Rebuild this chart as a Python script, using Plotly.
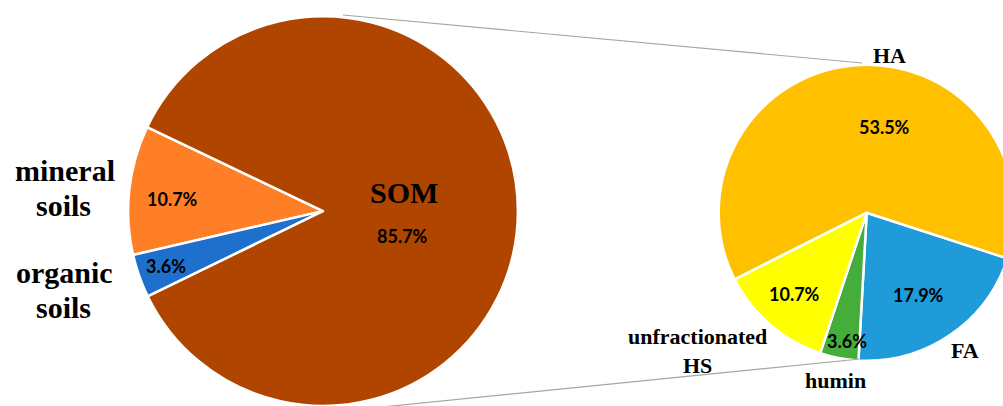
import plotly.graph_objects as go

# ---- data ----
main_labels = ["mineral soils", "organic soils", "SOM"]
main_values = [10.7, 3.6, 85.7]
main_colors = ["#FF7F27", "#1E70CC", "#B04500"]

som_labels = ["FA", "humin", "unfractionated HS", "HA"]
som_values = [17.9, 3.6, 10.7, 53.5]
som_colors = ["#1E9BD8", "#45AD3A", "#FFFF00", "#FFC000"]

W, H = 1020, 406


def px(x):
    return x / W


def py(y):
    return 1 - y / H


fig = go.Figure()

# left (main) pie: centre (323, 211), radius ~195
fig.add_trace(go.Pie(
    labels=main_labels, values=main_values, sort=False,
    direction="counterclockwise", rotation=-103,
    marker=dict(colors=main_colors, line=dict(color="white", width=2.5)),
    textinfo="none", hoverinfo="label+value", showlegend=False,
    domain=dict(x=[px(323 - 195), px(323 + 195)], y=[0, 0.96]),
))

# right (breakdown of SOM) pie: centre (866.7, 212.7), radius 148
fig.add_trace(go.Pie(
    labels=som_labels, values=som_values, sort=False,
    direction="clockwise", rotation=108,
    marker=dict(colors=som_colors, line=dict(color="white", width=2.5)),
    textinfo="none", hoverinfo="label+value", showlegend=False,
    domain=dict(x=[px(866.7 - 148), px(866.7 + 148)],
                y=[py(212.7 + 148), py(212.7 - 148)]),
))

# connector lines
line_style = dict(color="#A6A6A6", width=1.2)
fig.add_shape(type="line", xref="paper", yref="paper",
              x0=px(343), y0=py(15), x1=px(862), y1=py(63), line=line_style)
fig.add_shape(type="line", xref="paper", yref="paper",
              x0=px(372), y0=py(408), x1=px(860), y1=py(359), line=line_style)

serif = "Liberation Serif, Times New Roman, serif"
sans = "Lato, Carlito, Calibri, sans-serif"


def ann(x, y, text, size, family, color="black", bold=True):
    fig.add_annotation(
        x=px(x), y=py(y), xref="paper", yref="paper",
        text=f"<b>{text}</b>" if bold else text,
        showarrow=False, xanchor="center", yanchor="middle",
        font=dict(size=size, family=family, color=color),
    )


def pct(v):
    return f"{v:.1f}%"


# category labels (left)
ann(65, 170, "mineral", 30, serif)
ann(63, 205, "soils", 30, serif)
ann(64, 272, "organic", 30, serif)
ann(63, 307, "soils", 30, serif)
ann(404, 192, "SOM", 30, serif)

# percentages (left)
PS = 18
ann(172.5, 199, pct(main_values[0]), PS, sans)
ann(166, 266, pct(main_values[1]), PS, sans)
ann(402.5, 236, pct(main_values[2]), PS, sans)

# category labels (right)
ann(889, 55, "HA", 22, serif)
ann(964.5, 350, "FA", 22, serif)
ann(697.5, 336, "unfractionated", 22, serif)
ann(697, 365, "HS", 22, serif)
ann(835, 380, "humin", 22, serif)

# percentages (right)
ann(918.5, 295, pct(som_values[0]), PS, sans)
ann(847, 341, pct(som_values[1]), PS, sans)
ann(794, 294, pct(som_values[2]), PS, sans)
ann(884.5, 127, pct(som_values[3]), PS, sans)

fig.update_layout(
    width=W, height=H,
    margin=dict(l=0, r=0, t=0, b=0),
    paper_bgcolor="white", plot_bgcolor="white",
    showlegend=False,
)

fig.write_html(
    "out.html",
    config={"displayModeBar": False},
    post_script="document.body.style.margin='0';document.body.style.overflow='hidden';"
                "document.documentElement.style.overflow='hidden';",
)
